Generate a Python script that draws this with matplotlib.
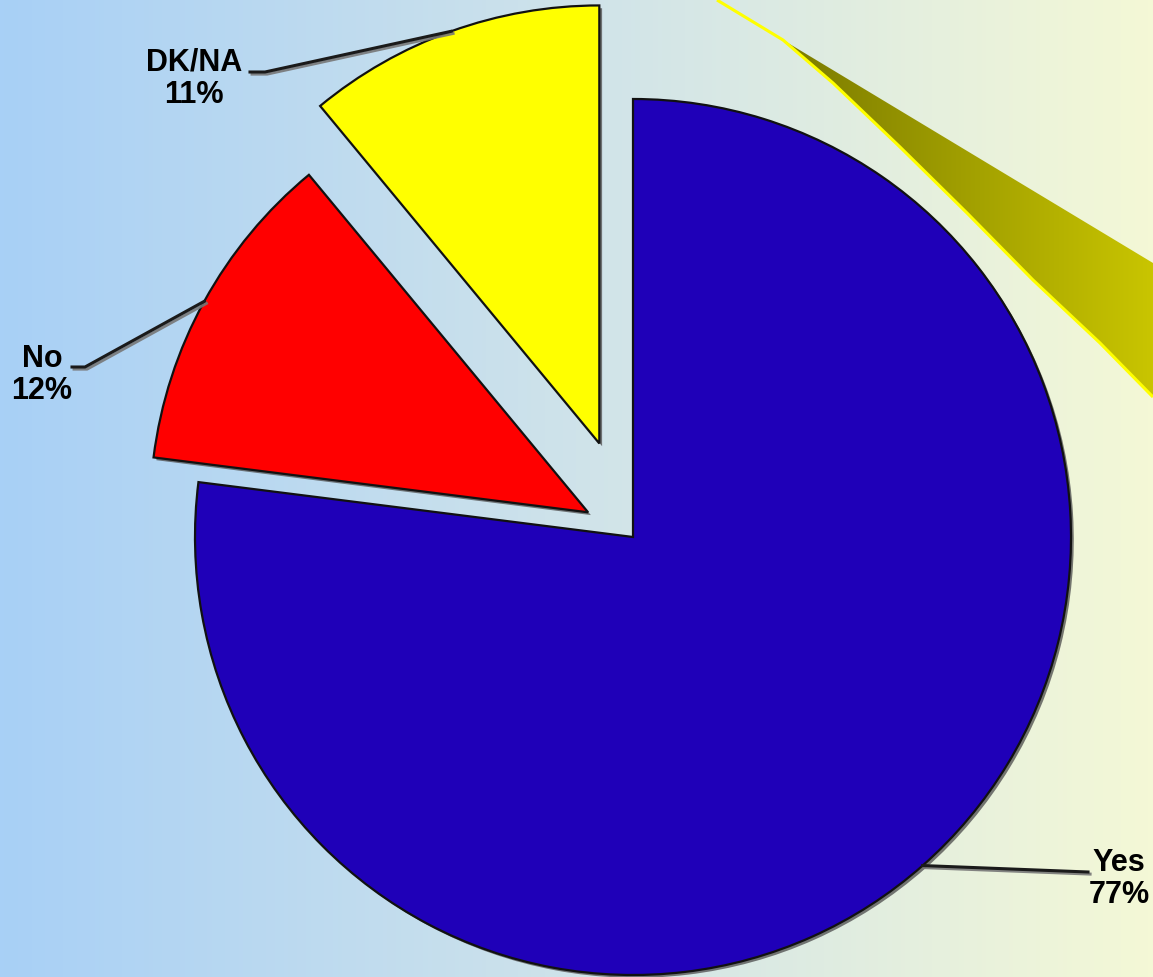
import numpy as np
import matplotlib
matplotlib.use("Agg")
import matplotlib.pyplot as plt
import matplotlib.patheffects as pe
from matplotlib.colors import LinearSegmentedColormap
from matplotlib.patches import Polygon

# survey answers
answers = ["Yes", "No", "DK/NA"]
shares = [77, 12, 11]
slice_colors = ["#1f00b8", "#ff0000", "#ffff00"]
explode_frac = [0, 0.117, 0.227]

W, H = 1153, 977
fig = plt.figure(figsize=(W / 100, H / 100), dpi=100)
ax = fig.add_axes([0, 0, 1, 1])

# background gradient, light blue -> light yellow
bg = LinearSegmentedColormap.from_list("bg", ["#a8d0f6", "#cfe3ea", "#f4f8d6"])
grad = np.linspace(0, 1, 256).reshape(1, -1)
ax.imshow(grad, cmap=bg, extent=[0, W, 0, H], aspect="auto", zorder=0)

# decorative swoosh in the top right corner
curve_x = [717, 783, 833, 900, 967, 1033, 1100, 1153]
curve_y = [0, 40, 83, 147, 213, 280, 343, 397]
curve_y = [H - y for y in curve_y]
swoosh = Polygon(list(zip([783, 1153] + curve_x[:0:-1], [H - 40, H - 263] + curve_y[:0:-1])),
                 closed=True, facecolor="none", edgecolor="none", zorder=1)
ax.add_patch(swoosh)
olive = LinearSegmentedColormap.from_list("olive", ["#7a7a00", "#c9c500"])
im = ax.imshow(np.linspace(0, 1, 256).reshape(1, -1), cmap=olive,
               extent=[783, 1153, H - 400, H - 40], aspect="auto", zorder=1)
im.set_clip_path(swoosh)
ax.plot(curve_x, curve_y, color="#ffff00", lw=2.2, zorder=2, solid_capstyle="butt")

# pie (explode in pie is given in data units, so scale by radius)
center = (633, H - 537)
radius = 438
shadow = [pe.SimplePatchShadow(offset=(2, -2), shadow_rgbFace="#555555", alpha=0.8), pe.Normal()]
wedges, _ = ax.pie(shares, colors=slice_colors, explode=[e * radius for e in explode_frac],
                   startangle=90, counterclock=False, radius=radius, center=center,
                   wedgeprops=dict(edgecolor="#111111", linewidth=1.6, zorder=3))
for w in wedges:
    w.set_path_effects(shadow)

ax.set_xlim(0, W)
ax.set_ylim(0, H)
ax.set_aspect("auto")
ax.axis("off")

# labels with leader lines from the middle of each slice's arc
elbows = {
    "Yes": [(1088, H - 872)],
    "No": [(85, H - 367), (72, H - 367)],
    "DK/NA": [(265, H - 72), (250, H - 72)],
}
label_pos = {"Yes": (1119, H - 879), "No": (42, H - 375), "DK/NA": (194, H - 79)}

line_fx = [pe.SimpleLineShadow(offset=(1.5, -1.5), shadow_color="#777777", alpha=0.9), pe.Normal()]
for w, name, pct in zip(wedges, answers, shares):
    mid = np.deg2rad((w.theta1 + w.theta2) / 2)
    cx, cy = w.center
    px = cx + w.r * np.cos(mid)
    py = cy + w.r * np.sin(mid)
    pts = [(px, py)] + elbows[name]
    xs, ys = zip(*pts)
    ax.plot(xs, ys, color="#1a1a1a", lw=2.2, zorder=4, path_effects=line_fx)
    tx, ty = label_pos[name]
    ax.text(tx, ty, f"{name}\n{pct}%", ha="center", va="center", ma="center",
            fontsize=22, fontweight="bold", family="Liberation Sans",
            color="black", linespacing=1.12, zorder=5)

fig.savefig("out.png", dpi=100)
